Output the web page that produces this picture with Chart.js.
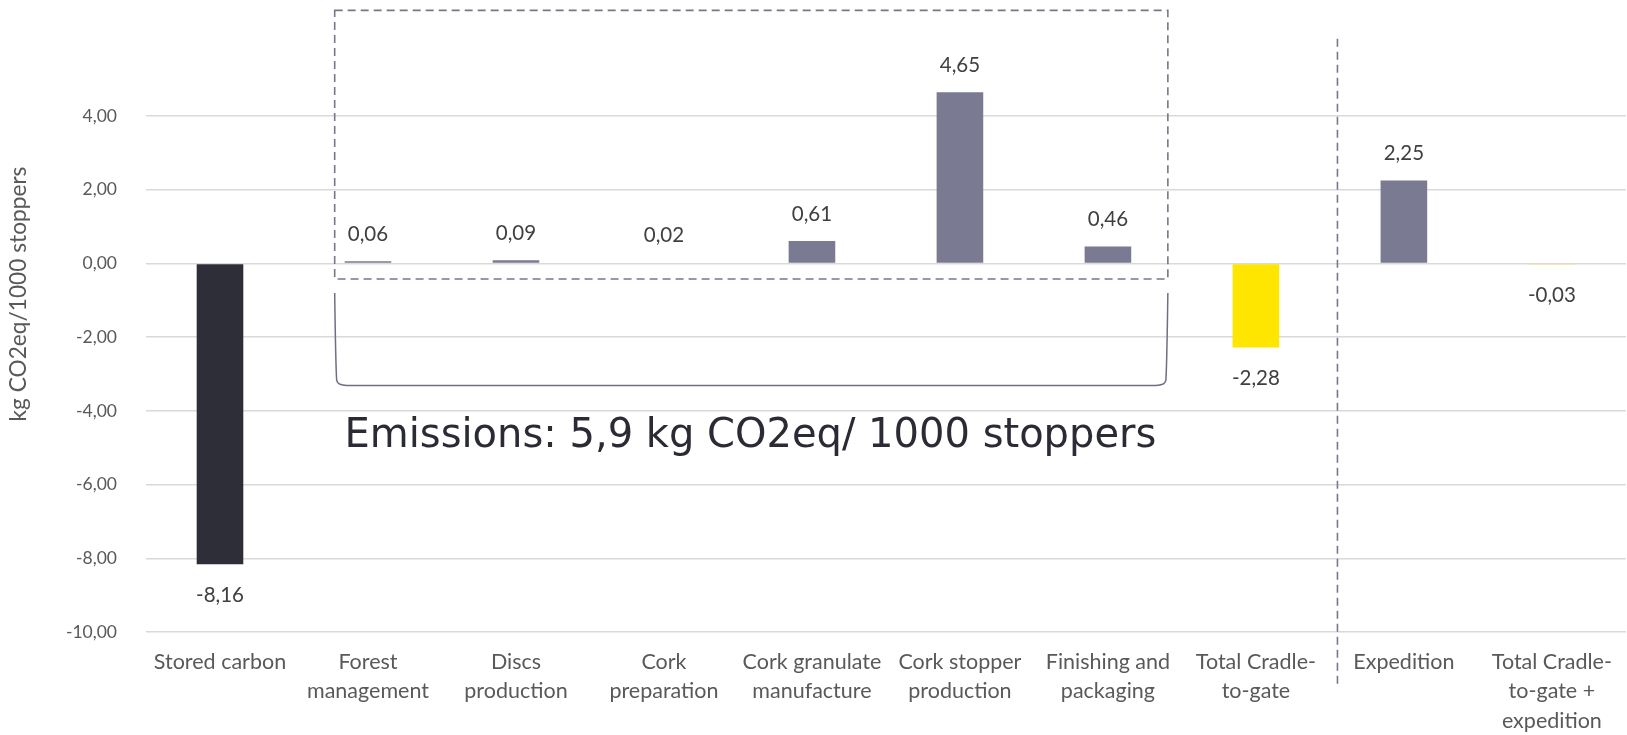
<!DOCTYPE html>
<html>
<head>
<meta charset="utf-8">
<script src="https://cdn.jsdelivr.net/npm/chart.js@4.4.1/dist/chart.umd.min.js"></script>
<style>
html,body{margin:0;padding:0;background:#fff;}
#wrap{width:1627px;height:735px;position:relative;}
</style>
</head>
<body>
<div id="wrap"><canvas id="c" width="1627" height="735"></canvas></div>
<script>
const categories = [
  ["Stored carbon"],
  ["Forest", "management"],
  ["Discs", "production"],
  ["Cork", "preparation"],
  ["Cork granulate", "manufacture"],
  ["Cork stopper", "production"],
  ["Finishing and", "packaging"],
  ["Total Cradle-", "to-gate"],
  ["Expedition"],
  ["Total Cradle-", "to-gate +", "expedition"]
];
const values = [-8.16, 0.06, 0.09, 0.02, 0.61, 4.65, 0.46, -2.28, 2.25, -0.03];
const barColors = ["#2e2e38", "#7a7a92", "#7a7a92", "#7a7a92", "#7a7a92", "#7a7a92", "#7a7a92", "#ffe600", "#7a7a92", "#ffe600"];
const yMin = -10, yMax = 6, yStep = 2;
const yTitle = "kg CO2eq/1000 stoppers";
const emissionsText = "Emissions: 5,9 kg CO2eq/ 1000 stoppers";

const fmt = v => v.toFixed(2).replace('.', ',');

const annot = {
  id: 'annot',
  afterDatasetsDraw(chart) {
    const ctx = chart.ctx;
    const x = chart.scales.x, y = chart.scales.y;
    ctx.save();
    // data labels
    ctx.font = '20.5px Lato';
    ctx.fillStyle = '#404040';
    ctx.textAlign = 'center';
    ctx.textBaseline = 'middle';
    const meta = chart.getDatasetMeta(0);
    meta.data.forEach((bar, i) => {
      const v = values[i];
      const yy = y.getPixelForValue(v) + (v < 0 ? 31 : -27);
      ctx.fillText(fmt(v), bar.x, yy);
    });

    // dashed rectangle around emission steps
    const rl = x.getPixelForValue(0.775), rr = x.getPixelForValue(6.405);
    const rt = y.getPixelForValue(6.868), rb = y.getPixelForValue(-0.42);
    ctx.strokeStyle = '#77778c';
    ctx.lineWidth = 1.6;
    ctx.setLineDash([8, 5]);
    ctx.strokeRect(rl, rt, rr - rl, rb - rt);

    // vertical dashed separator
    const vx = x.getPixelForValue(7.551);
    ctx.beginPath();
    ctx.moveTo(vx, y.getPixelForValue(6.1));
    ctx.lineTo(vx, y.getPixelForValue(-11.49));
    ctx.stroke();
    ctx.setLineDash([]);

    // bracket
    const bt = y.getPixelForValue(-0.80), bb = y.getPixelForValue(-3.31);
    const r = 10;
    ctx.strokeStyle = '#6e6e85';
    ctx.lineWidth = 1.5;
    ctx.beginPath();
    ctx.moveTo(rl, bt);
    ctx.quadraticCurveTo(rl + 1, bb - 2 * r, rl + 2, bb - r / 2);
    ctx.quadraticCurveTo(rl + 3, bb, rl + r + 2, bb);
    ctx.lineTo(rr - r - 2, bb);
    ctx.quadraticCurveTo(rr - 3, bb, rr - 2, bb - r / 2);
    ctx.quadraticCurveTo(rr - 1, bb - 2 * r, rr, bt);
    ctx.stroke();

    // emissions text
    ctx.font = '40px "DejaVu Sans"';
    ctx.fillStyle = '#2b2b35';
    ctx.textBaseline = 'alphabetic';
    ctx.fillText(emissionsText, x.getPixelForValue(3.584), y.getPixelForValue(-4.98));

    // y title
    ctx.translate(19, 294);
    ctx.rotate(-Math.PI / 2);
    ctx.font = '22.7px Lato';
    ctx.fillStyle = '#595959';
    ctx.textBaseline = 'middle';
    ctx.fillText(yTitle, 0, 0);
    ctx.restore();
  }
};

new Chart(document.getElementById('c'), {
  type: 'bar',
  data: {
    labels: categories,
    datasets: [{
      data: values,
      backgroundColor: barColors,
      borderWidth: 0,
      categoryPercentage: 1,
      barPercentage: 0.315
    }]
  },
  options: {
    responsive: false,
    animation: false,
    devicePixelRatio: 1,
    layout: { padding: { left: 0, right: 1, top: 42.4, bottom: 0 } },
    plugins: { legend: { display: false }, tooltip: { enabled: false } },
    scales: {
      x: {
        grid: { display: false, drawTicks: false },
        border: { display: false },
        ticks: {
          color: '#595959',
          font: { family: 'Lato', size: 21.5, lineHeight: 1.37 },
          padding: 15,
          maxRotation: 0,
          autoSkip: false
        },
        afterFit(s) { s.height = 103; }
      },
      y: {
        min: yMin, max: yMax,
        grid: {
          drawTicks: false,
          lineWidth: 1.5,
          color: c => (c.tick && c.tick.value === yMax) ? 'rgba(0,0,0,0)' : '#d9d9d9'
        },
        border: { display: false },
        ticks: {
          stepSize: yStep,
          color: '#595959',
          font: { family: 'Lato', size: 17.5 },
          padding: 29,
          callback: v => v === yMax ? '' : fmt(v)
        },
        afterFit(s) { s.width = 146; }
      }
    }
  },
  plugins: [annot]
});
</script>
</body>
</html>
